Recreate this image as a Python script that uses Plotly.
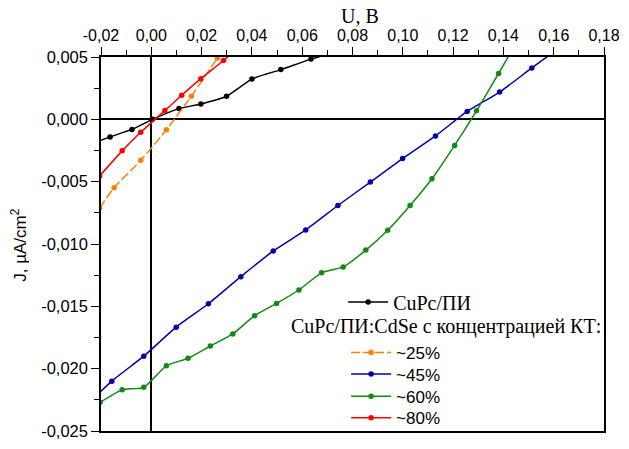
import numpy as np
import plotly.graph_objects as go

# ---- data ----
cupc_u = [-0.0245, -0.0164, -0.0077, 0.0005, 0.0110, 0.0197, 0.0299, 0.0400, 0.0515, 0.0635, 0.0750]
cupc_j = [-0.00200, -0.00141, -0.00081, 0.00000, 0.00086, 0.00123, 0.00185, 0.00323, 0.00399, 0.00483, 0.00550]

qd25_u = [-0.0205, -0.0148, -0.0042, 0.0060, 0.0159, 0.0263, 0.0340]
qd25_j = [-0.00712, -0.00548, -0.00329, -0.00084, 0.00185, 0.00491, 0.00720]

qd45_u = [-0.0285, -0.0157, -0.0030, 0.0099, 0.0227, 0.0356, 0.0485, 0.0614, 0.0742,
          0.0871, 0.0999, 0.1130, 0.1256, 0.1385, 0.1513, 0.1640]
qd45_j = [-0.02350, -0.02100, -0.01900, -0.01667, -0.01479, -0.01262, -0.01056, -0.00887, -0.00691,
          -0.00503, -0.00315, -0.00133, 0.00063, 0.00219, 0.00412, 0.00600]

qd60_u = [-0.0203, -0.0116, -0.0030, 0.0060, 0.0146, 0.0235, 0.0324, 0.0411, 0.0498, 0.0587,
          0.0677, 0.0763, 0.0853, 0.0940, 0.1029, 0.1116, 0.1206, 0.1293, 0.1381, 0.1470]
qd60_j = [-0.02270, -0.02170, -0.02150, -0.01977, -0.01917, -0.01818, -0.01721, -0.01575, -0.01477, -0.01369,
          -0.01231, -0.01184, -0.01049, -0.00890, -0.00691, -0.00477, -0.00209, 0.00068, 0.00368, 0.00680]

qd80_u = [-0.0205, -0.0116, -0.0042, 0.0054, 0.0121, 0.0197, 0.0287, 0.0360]
qd80_j = [-0.00454, -0.00253, -0.00104, 0.00070, 0.00193, 0.00326, 0.00472, 0.00600]

x_tick_vals = [-0.02, 0.00, 0.02, 0.04, 0.06, 0.08, 0.10, 0.12, 0.14, 0.16, 0.18]
x_tick_text = ["-0,02", "0,00", "0,02", "0,04", "0,06", "0,08", "0,10", "0,12", "0,14", "0,16", "0,18"]
y_tick_vals = [-0.025, -0.020, -0.015, -0.010, -0.005, 0.000, 0.005]
y_tick_text = ["-0,025", "-0,020", "-0,015", "-0,010", "-0,005", "0,000", "0,005"]

x_title = "U, B"
y_title = "J, µA/cm<sup>2</sup>"
legend_header = "CuPc/ПИ:CdSe с концентрацией КТ:"

series = [
    ("CuPc/ПИ", cupc_u, cupc_j, "#000000", "solid", "legend"),
    ("~25%", qd25_u, qd25_j, "#FF8000", "9px,3px", "legend2"),
    ("~45%", qd45_u, qd45_j, "#0000AA", "solid", "legend3"),
    ("~60%", qd60_u, qd60_j, "#108A10", "solid", "legend4"),
    ("~80%", qd80_u, qd80_j, "#FF0000", "solid", "legend5"),
]

fig = go.Figure()
for name, u, j, col, dash, lg in series:
    fig.add_trace(go.Scatter(
        x=u, y=j, name=name, mode="lines+markers",
        line=dict(color=col, width=1.5, dash=dash, shape="spline", smoothing=0.6),
        marker=dict(color=col, size=5.5, symbol="circle"),
        legend=lg,
    ))

W, H = 629, 449
ml, mr, mt, mb = 101, 17, 57, 9
pw, ph = W - ml - mr, H - mt - mb

def px_x(px):
    return (px - ml) / pw

def px_y(py):
    return (H - mb - py) / ph

serif = "Liberation Serif"
sans = "Liberation Sans"

common_leg = dict(bgcolor="rgba(0,0,0,0)", borderwidth=0, xanchor="left", yanchor="middle",
                  itemwidth=40, tracegroupgap=0)
leg_items = {
    "legend": (308, serif, 20, 347),
    "legend2": (360, sans, 17, 350),
    "legend3": (382, sans, 17, 350),
    "legend4": (405, sans, 17, 350),
    "legend5": (427, sans, 17, 350),
}
leg_layout = {}
for key, (cy, fam, fs, lx) in leg_items.items():
    d = dict(common_leg)
    d.update(x=px_x(lx), y=px_y(cy), font=dict(family=fam, size=fs, color="#000"))
    leg_layout[key] = d

minor_x = [float(v) for v in np.round(np.arange(-0.01, 0.18, 0.02), 3)]
minor_y = [float(v) for v in np.round(np.arange(-0.0225, 0.005, 0.005), 4)]

fig.update_layout(
    width=W, height=H,
    margin=dict(l=ml, r=mr, t=mt, b=mb),
    paper_bgcolor="white", plot_bgcolor="white",
    showlegend=True,
    **leg_layout,
    xaxis=dict(
        side="top", range=[-0.02, 0.18], tickmode="array",
        tickvals=x_tick_vals, ticktext=x_tick_text,
        ticks="outside", ticklen=8, tickwidth=1.3, tickcolor="#000",
        minor=dict(tickmode="array", tickvals=minor_x, ticks="outside", ticklen=5,
                   tickwidth=1.3, tickcolor="#000", showgrid=False),
        showline=True, linecolor="#000", linewidth=1.5, mirror=True,
        showgrid=False, zeroline=True, zerolinecolor="#000", zerolinewidth=1.5,
        tickfont=dict(family=sans, size=16, color="#000"),
    ),
    yaxis=dict(
        range=[-0.025, 0.005], tickmode="array",
        tickvals=y_tick_vals, ticktext=y_tick_text,
        ticks="outside", ticklen=8, tickwidth=1.3, tickcolor="#000",
        minor=dict(tickmode="array", tickvals=minor_y, ticks="outside", ticklen=5,
                   tickwidth=1.3, tickcolor="#000", showgrid=False),
        showline=True, linecolor="#000", linewidth=1.5, mirror=True,
        showgrid=False, zeroline=True, zerolinecolor="#000", zerolinewidth=1.5,
        tickfont=dict(family=sans, size=16.5, color="#000"),
    ),
    annotations=[
        dict(text=legend_header, xref="paper", yref="paper",
             x=px_x(292), y=px_y(333), xanchor="left", yanchor="middle", showarrow=False,
             font=dict(family=serif, size=20, color="#000")),
        dict(text=x_title, xref="paper", yref="paper",
             x=px_x(364), y=px_y(15), xanchor="center", yanchor="middle", showarrow=False,
             font=dict(family=serif, size=20, color="#000")),
        dict(text=y_title, xref="paper", yref="paper", textangle=-90,
             x=px_x(18), y=px_y(250), xanchor="center", yanchor="middle", showarrow=False,
             font=dict(family=sans, size=17, color="#000")),
    ],
)

fig.write_html("out.html")
